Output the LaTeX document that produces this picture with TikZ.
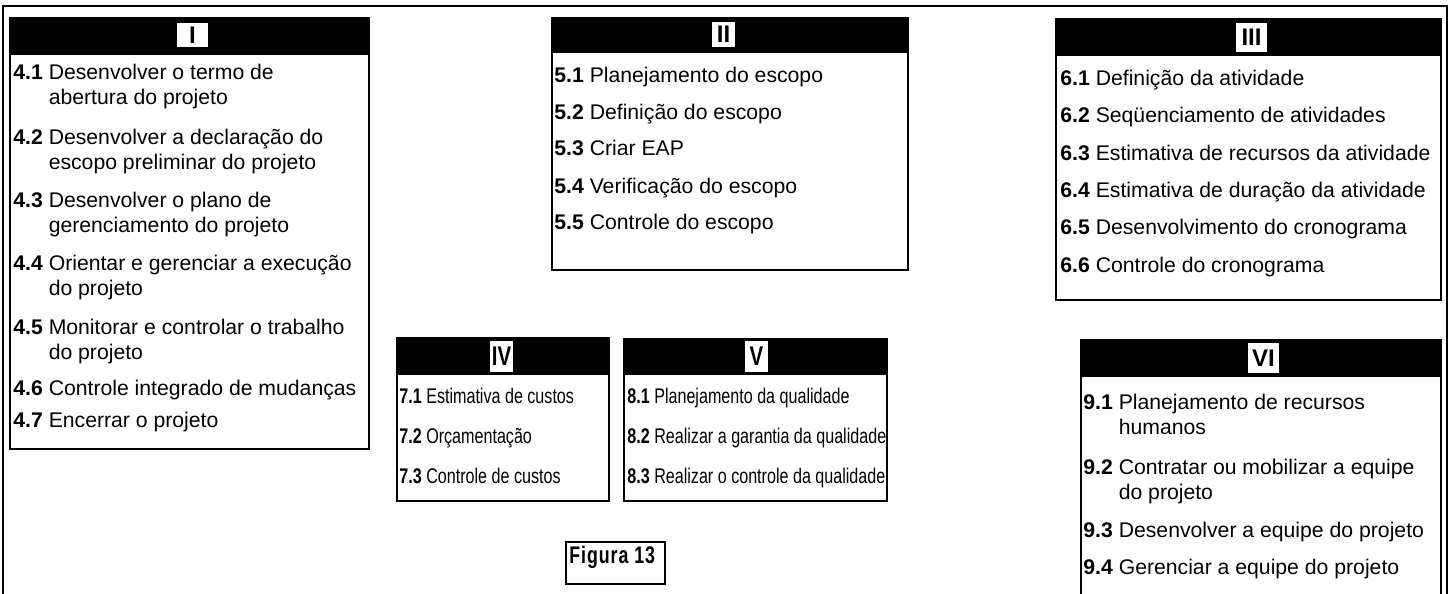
\documentclass[tikz,border=0pt]{standalone}
\usepackage{fontspec}
\setmainfont{Liberation Sans}
\newfontfamily\narrowfont[FakeStretch=0.76]{Liberation Sans}
\newfontfamily\narrowspacedfont[FakeStretch=0.74,LetterSpace=4]{Liberation Sans}
\newcommand\itm[2]{\textbf{#1} #2}
\newcommand\itmw[3]{\begin{tabular}[t]{@{}l@{\ }l@{}}\textbf{#1}&#2\\&#3\end{tabular}}
\begin{document}
\begin{tikzpicture}[x=0.5pt,y=-0.5pt,
  frame/.style={draw=black, line width=1pt},
  hdr/.style={fill=black},
  lbl/.style={fill=white, inner sep=0pt, font=\fontsize{12}{12}\selectfont\bfseries},
  nlbl/.style={fill=white, inner sep=0pt, font=\narrowfont\fontsize{13.5}{13.5}\selectfont\bfseries},
  item/.style={anchor=base west, inner sep=0pt, font=\fontsize{10.6}{12.5}\selectfont},
  nitem/.style={anchor=base west, inner sep=0pt, font=\narrowfont\fontsize{10.6}{12}\selectfont},
]
\useasboundingbox (0,0) rectangle (1452,594);
\clip (0,0) rectangle (1452,594);
% outer frame
\draw[frame] (2.5,6) rectangle (1447,620);

% ---- Box I
\fill[hdr] (10,18) rectangle (369,55);
\draw[frame] (10,18) rectangle (369,449);
\node[lbl, minimum width=15.5pt, minimum height=12pt] (lI) at (192.5,35) {I};
\node[item] (i41) at (13,79) {\itmw{4.1}{Desenvolver o termo de}{abertura do projeto}};
\node[item] (i42) at (13,144) {\itmw{4.2}{Desenvolver a declaração do}{escopo preliminar do projeto}};
\node[item] (i43) at (13,207) {\itmw{4.3}{Desenvolver o plano de}{gerenciamento do projeto}};
\node[item] (i44) at (13,270) {\itmw{4.4}{Orientar e gerenciar a execução}{do projeto}};
\node[item] (i45) at (13,334) {\itmw{4.5}{Monitorar e controlar o trabalho}{do projeto}};
\node[item] (i46) at (13,395) {\itm{4.6}{Controle integrado de mudanças}};
\node[item] (i47) at (13,427) {\itm{4.7}{Encerrar o projeto}};

% ---- Box II
\fill[hdr] (552,18) rectangle (908,53);
\draw[frame] (552,18) rectangle (908,270);
\node[lbl, minimum width=11.5pt, minimum height=12.5pt] (lII) at (723.5,34.5) {II};
\node[item] (i51) at (554,82) {\itm{5.1}{Planejamento do escopo}};
\node[item] (i52) at (554,119) {\itm{5.2}{Definição do escopo}};
\node[item] (i53) at (554,155) {\itm{5.3}{Criar EAP}};
\node[item] (i54) at (554,193) {\itm{5.4}{Verificação do escopo}};
\node[item] (i55) at (554,229) {\itm{5.5}{Controle do escopo}};

% ---- Box III
\fill[hdr] (1056,19) rectangle (1441,56);
\draw[frame] (1056,19) rectangle (1441,300);
\node[lbl, minimum width=15.5pt, minimum height=14.5pt] (lIII) at (1251.5,37.5) {III};
\node[item] (i61) at (1060,85) {\itm{6.1}{Definição da atividade}};
\node[item] (i62) at (1060,122) {\itm{6.2}{Seqüenciamento de atividades}};
\node[item] (i63) at (1060,160) {\itm{6.3}{Estimativa de recursos da atividade}};
\node[item] (i64) at (1060,197) {\itm{6.4}{Estimativa de duração da atividade}};
\node[item] (i65) at (1060,234) {\itm{6.5}{Desenvolvimento do cronograma}};
\node[item] (i66) at (1060,272) {\itm{6.6}{Controle do cronograma}};

% ---- Box IV
\fill[hdr] (397,338) rectangle (609,375);
\draw[frame] (397,338) rectangle (609,501);
\node[nlbl, minimum width=11.5pt, minimum height=15.5pt] (lIV) at (501.5,356.5) {IV};
\node[nitem] (i71) at (399,403) {\itm{7.1}{Estimativa de custos}};
\node[nitem] (i72) at (399,443) {\itm{7.2}{Orçamentação}};
\node[nitem] (i73) at (399,483) {\itm{7.3}{Controle de custos}};

% ---- Box V
\fill[hdr] (624,339) rectangle (887,375);
\draw[frame] (624,339) rectangle (887,501);
\node[nlbl, minimum width=11.5pt, minimum height=15.5pt] (lV) at (756.5,356.5) {V};
\node[nitem] (i81) at (627,403) {\itm{8.1}{Planejamento da qualidade}};
\node[nitem] (i82) at (627,443) {\itm{8.2}{Realizar a garantia da qualidade}};
\node[nitem] (i83) at (627,483) {\itm{8.3}{Realizar o controle da qualidade}};

% ---- Box VI
\fill[hdr] (1081,340) rectangle (1441,377);
\draw[frame] (1081,340) rectangle (1441,640);
\node[lbl, minimum width=15.5pt, minimum height=15pt] (lVI) at (1263.5,358) {VI};
\node[item] (i91) at (1083,409) {\itmw{9.1}{Planejamento de recursos}{humanos}};
\node[item] (i92) at (1083,474) {\itmw{9.2}{Contratar ou mobilizar a equipe}{do projeto}};
\node[item] (i93) at (1083,537) {\itm{9.3}{Desenvolver a equipe do projeto}};
\node[item] (i94) at (1083,574) {\itm{9.4}{Gerenciar a equipe do projeto}};

% ---- Figura 13
\draw[frame] (566,542) rectangle (665,584);
\node[anchor=base west, inner sep=0pt, font=\narrowspacedfont\fontsize{12}{12}\selectfont\bfseries] (fig) at (569,563) {Figura 13};
\end{tikzpicture}
\end{document}
